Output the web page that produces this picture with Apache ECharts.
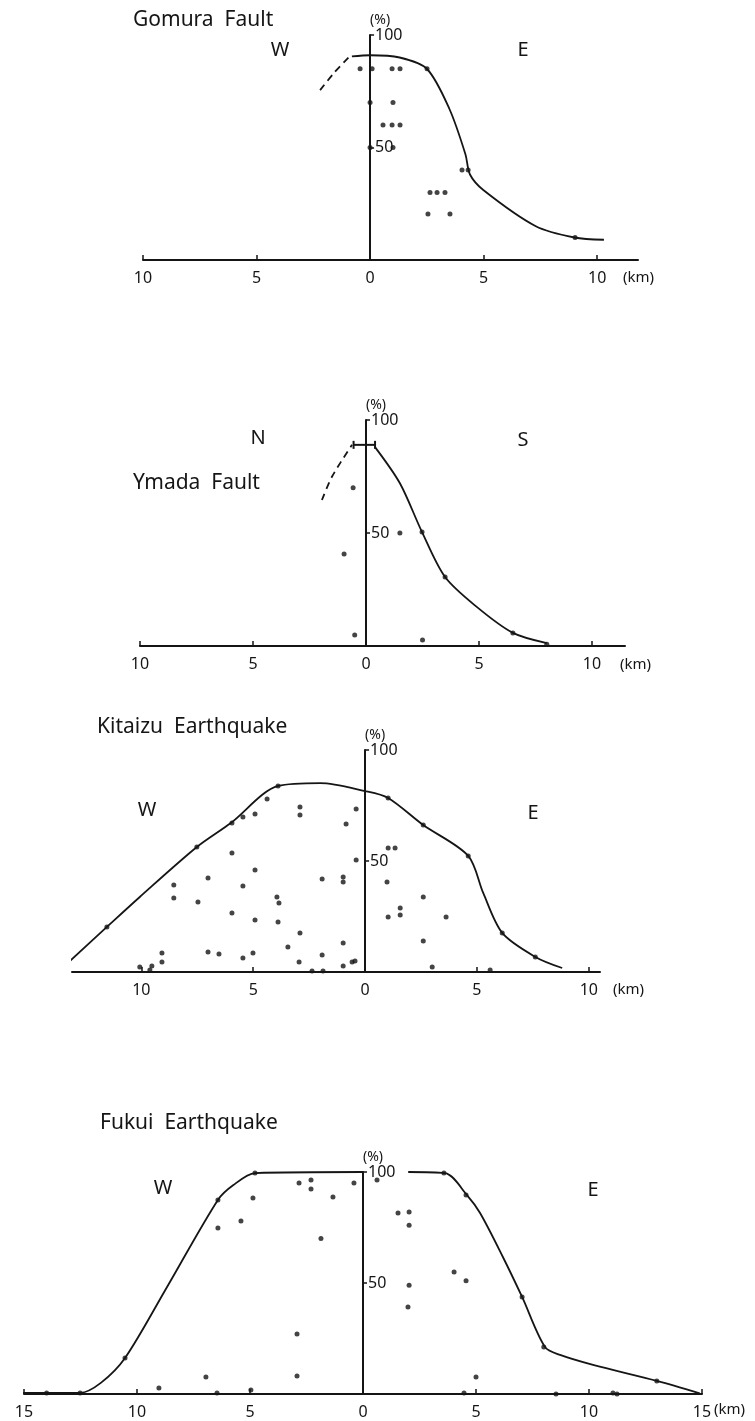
<!DOCTYPE html>
<html>
<head>
<meta charset="utf-8">
<script src="https://cdn.jsdelivr.net/npm/echarts@6/dist/echarts.min.js"></script>
<style>
  body { margin: 0; background: #fff; }
  #main { width: 755px; height: 1421px; }
</style>
</head>
<body>
<div id="main"></div>
<script>
// tick values (km, shown without sign) and percent ticks
const xTicks10 = [-10, -5, 0, 5, 10]
const xTicks15 = [-15, -10, -5, 0, 5, 10, 15]
const yTicks = [50, 100]

// Gomura Fault  [km, %]
const gomuraCurve = [[-0.8, 90.5], [0, 91], [1.3, 90], [2.5, 85], [3.5, 67], [4.2, 47], [4.4, 38], [5, 31], [7.3, 15], [9, 10], [10.3, 9]]
const gomuraDash = [[-2.2, 75.5], [-1.6, 83], [-0.95, 90]]
const gomuraDots = [[-0.44, 85], [0.09, 85], [0.97, 85], [1.32, 85], [2.51, 85], [0, 70], [1.01, 70],
  [0.57, 60], [0.97, 60], [1.32, 60], [0, 50], [1.01, 50], [4.05, 40], [4.32, 40], [2.64, 30], [2.95, 30],
  [3.3, 30], [2.55, 20.5], [3.52, 20.5], [9.03, 10]]

// Ymada Fault
const ymadaCurve = [[0.4, 88], [1.5, 72], [2.48, 50.4], [3.5, 30.5], [4.9, 17.3], [6.5, 5.8], [8.0, 1.3]]
const ymadaDash = [[-1.95, 64.6], [-1.5, 75], [-0.62, 89]]
const ymadaBar = [[-0.55, 89], [0.4, 89]]
const ymadaDots = [[-0.57, 70], [-0.97, 40.7], [-0.5, 4.9], [1.5, 50], [2.48, 50.4], [3.5, 30.5], [6.5, 5.8], [2.5, 2.7], [8.0, 0.8]]

// Kitaizu Earthquake
const kitaizuCurve = [[-13.3, 4], [-11.54, 20.3], [-10.07, 33.8], [-7.52, 56.3], [-6.0, 67.1], [-3.89, 83.8], [-2.0, 85.1],
  [0, 81.5], [1.03, 78.4], [2.6, 66.2], [4.61, 52.3], [5.28, 35.6], [6.13, 17.6], [7.61, 6.8], [8.81, 1.8]]
const kitaizuDots = [[-3.89, 83.8], [-4.38, 77.9], [-4.92, 71.2], [-5.46, 69.8], [-5.95, 67.1], [-7.52, 56.3], [-11.54, 20.3],
  [-2.91, 74.3], [-2.91, 70.7], [-0.4, 73.4], [-0.85, 66.7], [-0.4, 50.5], [-5.95, 53.6], [-4.92, 45.9], [-7.02, 42.3],
  [-5.46, 38.7], [-1.92, 41.9], [-0.98, 42.8], [-0.98, 40.5], [-8.55, 39.2], [-8.55, 33.3], [-7.47, 31.5], [-3.94, 33.8],
  [-3.85, 31.1], [-5.95, 26.6], [-4.92, 23.4], [-3.89, 22.5], [-2.91, 17.6], [-3.45, 11.3], [-0.98, 13.1], [-9.08, 8.6],
  [-9.08, 4.5], [-7.02, 9.0], [-6.53, 8.1], [-5.46, 6.3], [-5.01, 8.6], [-2.95, 4.5], [-1.92, 7.7], [-0.98, 2.7],
  [-0.58, 4.5], [-0.45, 5.0], [-9.53, 2.7], [-9.62, 0.9], [-10.07, 2.3], [-2.37, 0.5], [-1.88, 0.5],
  [1.03, 78.4], [1.03, 55.9], [1.34, 55.9], [0.98, 40.5], [2.6, 33.8], [1.57, 28.8], [1.57, 25.7], [1.03, 24.8],
  [3.62, 24.8], [2.6, 66.2], [4.61, 52.3], [6.13, 17.6], [7.61, 6.8], [2.6, 14.0], [3.0, 2.3], [5.59, 0.9]]

// Fukui Earthquake
const fukuiCurveW = [[-15.04, 0.5], [-12.52, 0.5], [-11.6, 5], [-10.53, 16.2], [-8.67, 48.2], [-6.42, 87.4], [-5.75, 94], [-4.78, 99.5], [0, 100]]
const fukuiCurveE = [[2.0, 100], [3.63, 99.5], [4.6, 89.6], [5.18, 81.5], [6.19, 61.7], [7.04, 43.7], [8.05, 21.2],
  [8.72, 17.6], [10.18, 13.1], [13.0, 5.9], [14.9, 0.3]]
const fukuiDots = [[-15.04, 0.5], [-14, 0.5], [-12.52, 0.5], [-10.53, 16.2], [-9.03, 2.7], [-6.95, 7.7], [-6.46, 0.5],
  [-4.96, 1.8], [-2.92, 8.1], [-2.92, 27], [-6.42, 74.8], [-5.4, 77.9], [-4.87, 88.3], [-6.42, 87.4], [-4.78, 99.5],
  [-2.83, 95], [-2.3, 96.4], [-2.3, 92.3], [-1.33, 88.7], [-0.4, 95], [-1.86, 70], [0.62, 96.4], [1.55, 81.5],
  [2.04, 82], [2.04, 76], [2.04, 49], [1.99, 39.2], [4.03, 55], [4.56, 51], [4.56, 89.6], [3.58, 99.5], [7.04, 43.7],
  [8.0, 21.2], [5.0, 7.7], [4.47, 0.5], [8.54, 0], [11.06, 0.5], [11.24, 0], [13.0, 5.9]]

const ink = '#151515'
const fontFam = '"Noto Sans", "DejaVu Sans", sans-serif'

// grids, one per panel
const grids = [
  { left: 143, top: 35, width: 495, height: 225 },
  { left: 140, top: 420, width: 485, height: 226 },
  { left: 72, top: 750, width: 528, height: 222 },
  { left: 24, top: 1172, width: 678, height: 222 }
]
const xRanges = [[-10, 11.8], [-10, 11.46], [-13.1, 10.5], [-15, 15]]
const xTickSets = [xTicks10, xTicks10, xTicks10, xTicks15]

function xAxisFor (i) {
  return {
    type: 'value',
    gridIndex: i,
    min: xRanges[i][0],
    max: xRanges[i][1],
    splitLine: { show: false },
    axisLine: { lineStyle: { color: ink, width: 2 } },
    axisTick: { inside: true, length: 5, customValues: xTickSets[i], lineStyle: { color: ink, width: 1.5 } },
    axisLabel: {
      customValues: xTickSets[i],
      formatter: v => String(Math.abs(v)),
      color: ink, fontSize: 16, fontFamily: fontFam, margin: 10
    }
  }
}

function yAxisFor (i) {
  // move the y axis from the grid's left edge to x = 0 km
  let shift = (0 - xRanges[i][0]) / (xRanges[i][1] - xRanges[i][0]) * grids[i].width
  return {
    type: 'value',
    gridIndex: i,
    min: 0,
    max: 100,
    offset: -shift,
    name: '(%)',
    nameLocation: 'end',
    nameGap: 8,
    nameTextStyle: { color: ink, fontSize: 14, fontFamily: fontFam, align: 'left' },
    splitLine: { show: false },
    axisLine: { onZero: false, lineStyle: { color: ink, width: 2 } },
    axisTick: { inside: true, length: 4, customValues: yTicks, lineStyle: { color: ink, width: 1.5 } },
    axisLabel: { inside: true, customValues: yTicks, color: ink, fontSize: 16, fontFamily: fontFam, margin: 5 }
  }
}

function curve (i, data, dashed) {
  return {
    type: 'line', xAxisIndex: i, yAxisIndex: i, data: data,
    smooth: 0.3, symbol: 'none', silent: true,
    lineStyle: { color: ink, width: 1.8, type: dashed ? [7, 5] : 'solid' }
  }
}

function dots (i, data) {
  return {
    type: 'scatter', xAxisIndex: i, yAxisIndex: i, data: data,
    symbolSize: 5, itemStyle: { color: ink }
  }
}

function label (text, x, y, size, align) {
  return {
    type: 'text', x: x, y: y,
    style: { text: text, fill: ink, fontSize: size, fontFamily: fontFam, align: align || 'center', verticalAlign: 'middle' }
  }
}

const myChart = echarts.init(document.getElementById('main'), null, { renderer: 'canvas' })
let option = {
  backgroundColor: '#fff',
  animation: false,
  grid: grids,
  xAxis: [0, 1, 2, 3].map(xAxisFor),
  yAxis: [0, 1, 2, 3].map(yAxisFor),
  series: [
    curve(0, gomuraCurve), curve(0, gomuraDash, true), dots(0, gomuraDots),
    curve(1, ymadaCurve), curve(1, ymadaDash, true), dots(1, ymadaDots),
    {
      type: 'line', xAxisIndex: 1, yAxisIndex: 1, data: ymadaBar,
      symbol: 'rect', symbolSize: [2, 8], itemStyle: { color: ink },
      lineStyle: { color: ink, width: 2 }
    },
    curve(2, kitaizuCurve), dots(2, kitaizuDots),
    curve(3, fukuiCurveW), curve(3, fukuiCurveE), dots(3, fukuiDots)
  ],
  graphic: [
    label('Gomura  Fault', 133, 20, 21, 'left'),
    label('W', 280, 50, 20), label('E', 523, 50, 20),
    label('(km)', 623, 278, 15, 'left'),

    label('N', 258, 438, 20), label('S', 523, 440, 20),
    label('Ymada  Fault', 133, 483, 21, 'left'),
    label('(km)', 620, 665, 15, 'left'),

    label('Kitaizu  Earthquake', 97, 727, 21, 'left'),
    label('W', 147, 810, 20), label('E', 533, 813, 20),
    label('(km)', 613, 990, 15, 'left'),

    label('Fukui  Earthquake', 100, 1123, 21, 'left'),
    label('W', 163, 1188, 20), label('E', 593, 1190, 20),
    label('(km)', 714, 1410, 15, 'left')
  ]
}
option && myChart.setOption(option)
</script>
</body>
</html>
